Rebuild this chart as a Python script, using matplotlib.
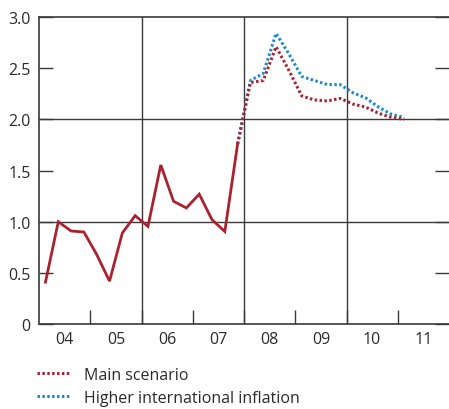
import matplotlib.pyplot as plt
import numpy as np

plt.rcParams['font.family'] = ['Open Sans', 'DejaVu Sans']

# quarterly data, 2004 Q1 - 2007 Q4 (outcome)
actual_start = 2004
actual = [0.41, 1.00, 0.91, 0.90, 0.68, 0.42, 0.89, 1.06,
          0.955, 1.555, 1.20, 1.135, 1.27, 1.02, 0.905, 1.76]

# forecasts, 2007 Q4 - 2011 Q1
fc_start = 2007.75
main_scenario = [1.76, 2.36, 2.38, 2.71, 2.48, 2.23, 2.19, 2.18,
                 2.205, 2.15, 2.12, 2.06, 2.02, 2.00]
higher_intl = [1.76, 2.38, 2.45, 2.84, 2.64, 2.42, 2.38, 2.34,
               2.34, 2.26, 2.21, 2.12, 2.05, 2.02]

year_labels = ["04", "05", "06", "07", "08", "09", "10", "11"]

red = "#a8232f"
blue = "#1a8ad0"
frame = "#3a3a3a"

x_act = actual_start + 0.125 + 0.25 * np.arange(len(actual))
x_fc = fc_start + 0.125 + 0.25 * np.arange(len(main_scenario))

fig = plt.figure(figsize=(4.49, 4.10), dpi=100)
ax = fig.add_axes([0.087, 0.207, 0.913, 0.749])

for v in [2006, 2008, 2010]:
    ax.axvline(v, color=frame, lw=1.0, zorder=1)
for h in [1.0, 2.0]:
    ax.axhline(h, color=frame, lw=1.0, zorder=1)

ax.plot(x_act, actual, color=red, lw=2.0, solid_joinstyle='miter', zorder=3)
l2, = ax.plot(x_fc, higher_intl, color=blue, lw=2.2, ls=(0, (0.8, 0.8)), zorder=3,
              label="Higher international inflation")
l1, = ax.plot(x_fc, main_scenario, color=red, lw=2.2, ls=(0, (0.8, 0.8)), zorder=4,
              label="Main scenario")

ax.set_xlim(2004, 2012)
ax.set_ylim(0, 3.0)

ax.set_yticks([0, 0.5, 1.0, 1.5, 2.0, 2.5, 3.0])
ax.set_yticklabels(["0", "0.5", "1.0", "1.5", "2.0", "2.5", "3.0"])
ax.tick_params(axis='y', direction='in', length=10, width=1, color=frame,
               labelsize=11.5, pad=6, labelcolor="#2a2a2a", right=True)

ax.set_xticks(np.arange(2004, 2012) + 0.5)
ax.set_xticklabels(year_labels)
ax.set_xticks(np.arange(2005, 2012), minor=True)
ax.tick_params(axis='x', which='major', length=0, labelsize=11.5, pad=5,
               labelcolor="#2a2a2a")
ax.tick_params(axis='x', which='minor', direction='in', length=10, width=1,
               color=frame)

for s in ['left', 'bottom', 'top']:
    ax.spines[s].set_color(frame)
    ax.spines[s].set_linewidth(1.2)
ax.spines['right'].set_visible(False)

leg = fig.legend(handles=[l1, l2], loc='upper left',
                 bbox_to_anchor=(0.083, 0.103), frameon=False,
                 fontsize=11.5, handlelength=2.1, handletextpad=0.8,
                 labelspacing=0.45, borderpad=0, borderaxespad=0)
for t in leg.get_texts():
    t.set_color("#2a2a2a")

fig.savefig("out.png", dpi=100)
